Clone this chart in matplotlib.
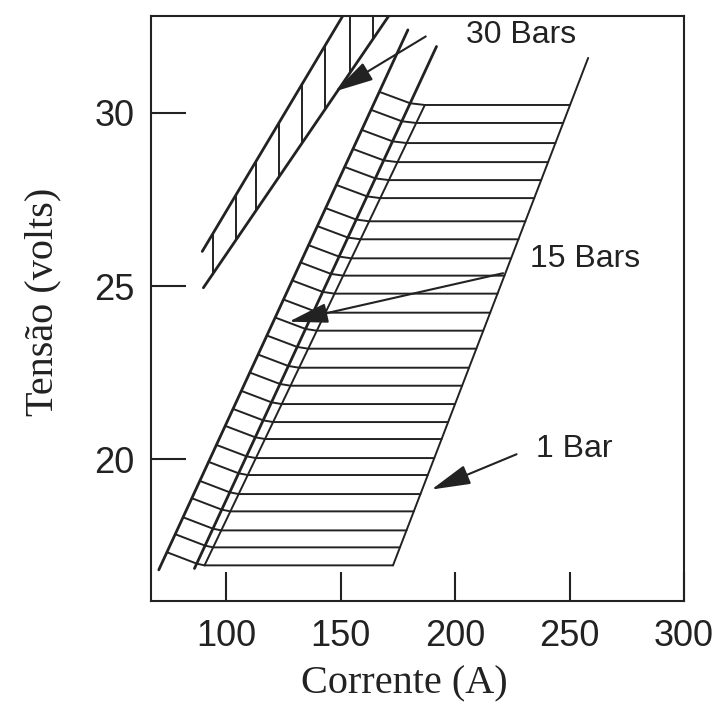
import numpy as np
import matplotlib.pyplot as plt

# values: (corrente [A], tensao [V])
# 30 bars band
upper30_a = [89.4, 150.8]
upper30_v = [26.0, 32.8]
lower30_a = [89.9, 170.9]
lower30_v = [24.95, 32.8]
hatch30_a = [94, 104, 113, 123, 133, 143, 154, 164]

# 15 bars band (left and middle edge)
left15_a = [70.4, 179.3]
left15_v = [16.8, 32.4]
mid15_a = [86.0, 191.8]
mid15_v = [16.84, 31.92]

# 1 bar region (left and right edge)
left1_a = [90.4, 186.7]
left1_v = [16.93, 30.23]
right1_a = [172.8, 258.1]
right1_v = [16.93, 31.59]

# levels of the horizontal hatch lines
hatch_v = [30.23, 29.71, 29.13, 28.58, 28.06, 27.54, 26.87, 26.35, 25.80,
           25.30, 24.78, 24.23, 23.71, 23.19, 22.64, 22.12, 21.59, 21.07,
           20.58, 20.03, 19.54, 18.99, 18.49, 17.94, 17.45, 16.93]

# annotations: label, text pos, arrow start, arrow tip
labels = ["30 Bars", "15 Bars", "1 Bar"]
text_xy = [(228.9, 32.26), (256.7, 25.79), (251.9, 20.30)]
arrow_from = [(187.1, 32.21), (220.9, 25.37), (226.8, 20.14)]
arrow_to = [(147.3, 30.62), (127.3, 23.97), (189.6, 19.12)]


def a_at(v, a_pts, v_pts):
    return np.interp(v, v_pts, a_pts)


ink = "#222222"
sans = ["Liberation Sans", "DejaVu Sans"]
serif = ["Liberation Serif", "DejaVu Serif"]

fig = plt.figure(figsize=(7.17, 7.06), dpi=100)
ax = fig.add_axes([0.2106, 0.1487, 0.7434, 0.8286])

kw = dict(color=ink, lw=2.0, solid_capstyle="round")
hk = dict(color=ink, lw=1.4, solid_capstyle="round")

# 30 bars band
ax.plot(upper30_a, upper30_v, **kw)
ax.plot(lower30_a, lower30_v, **kw)
for a in hatch30_a:
    v0 = np.interp(a, lower30_a, lower30_v)
    v1 = np.interp(a, upper30_a, upper30_v)
    ax.plot([a, a], [v0, v1], **hk)

# 15 bars and 1 bar
ax.plot(left15_a, left15_v, **kw)
ax.plot(mid15_a, mid15_v, **kw)
ax.plot(left1_a, left1_v, **hk)
ax.plot(right1_a, right1_v, **hk)

for v in hatch_v:
    xs = [a_at(v + 0.38, left15_a, left15_v), a_at(v + 0.05, mid15_a, mid15_v),
          a_at(v, left1_a, left1_v), a_at(v, right1_a, right1_v)]
    ys = [v + 0.38, v + 0.05, v, v]
    ax.plot(xs, ys, **hk)

for lab, txy, p0, p1 in zip(labels, text_xy, arrow_from, arrow_to):
    ax.text(txy[0], txy[1], lab, ha="center", va="center", fontsize=23,
            family=sans, color=ink)
    ax.annotate("", xy=p1, xytext=p0,
                arrowprops=dict(arrowstyle="-|>,head_length=1.1,head_width=0.28",
                                color=ink, lw=1.5, mutation_scale=22,
                                shrinkA=0, shrinkB=0))

ax.set_xlim(67, 300)
ax.set_ylim(15.9, 32.8)
ax.set_xticks([100, 150, 200, 250, 300])
ax.set_yticks([20, 25, 30])
ax.tick_params(axis="x", direction="in", length=21, width=1.5, pad=13,
               labelsize=26, colors=ink)
ax.tick_params(axis="y", direction="in", length=25, width=1.5, pad=12,
               labelsize=26, colors=ink)
for lab in ax.get_xticklabels() + ax.get_yticklabels():
    lab.set_family(sans)
for s in ax.spines.values():
    s.set_linewidth(1.5)
    s.set_color(ink)

ax.set_xlabel("Corrente (A)", fontsize=29, family=serif, color=ink)
ax.set_ylabel("Tensão (volts)", fontsize=29, family=serif, color=ink)
ax.xaxis.set_label_coords(0.4755, -0.142)
ax.xaxis.label.set_verticalalignment("center")
ax.yaxis.set_label_coords(-0.2026, 0.511)
ax.yaxis.label.set_verticalalignment("center")

fig.savefig("out.png", dpi=100)
